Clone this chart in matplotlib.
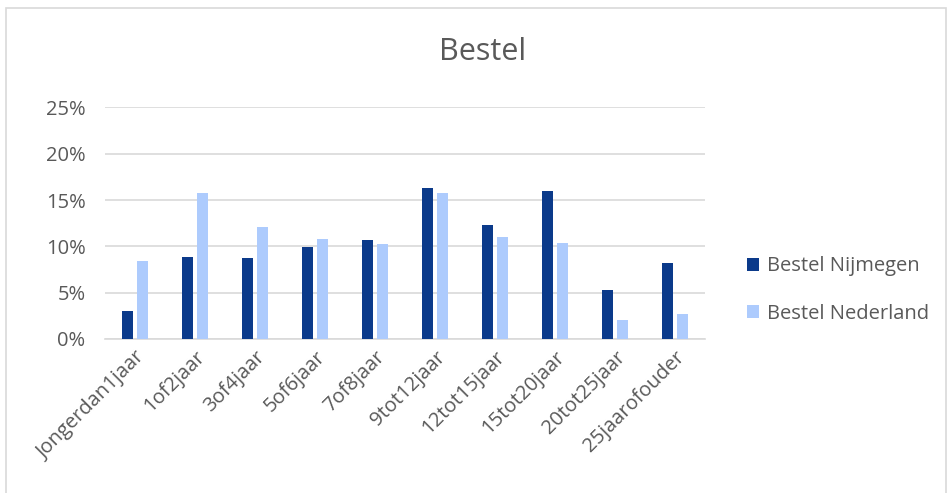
import matplotlib
matplotlib.use("Agg")
import matplotlib.pyplot as plt
import numpy as np
from matplotlib.patches import Rectangle
from matplotlib.ticker import PercentFormatter

categories = ["Jongerdan1jaar", "1of2jaar", "3of4jaar", "5of6jaar", "7of8jaar",
              "9tot12jaar", "12tot15jaar", "15tot20jaar", "20tot25jaar", "25jaarofouder"]
nijmegen = [3.0, 8.9, 8.8, 9.9, 10.7, 16.3, 12.3, 16.0, 5.3, 8.2]
nederland = [8.4, 15.8, 12.1, 10.8, 10.3, 15.8, 11.0, 10.4, 2.1, 2.7]
series_names = ["Bestel Nijmegen", "Bestel Nederland"]
yticks = [0, 5, 10, 15, 20, 25]

text_col = "#595959"
plt.rcParams['font.family'] = ['Open Sans', 'DejaVu Sans']

fig = plt.figure(figsize=(9.49, 4.93), dpi=100)
fig.patches.append(Rectangle((6 / 949, -0.02), 940 / 949, 1 - 8 / 493 + 0.02,
                             transform=fig.transFigure, fill=False,
                             edgecolor="#d9d9d9", linewidth=1.2))
ax = fig.add_axes([105 / 949, 154 / 493, 600 / 949, 231.5 / 493])

x = np.arange(len(categories))
w = 0.18
ax.bar(x - 0.12, nijmegen, w, color="#0b3a8a", label=series_names[0], zorder=3)
ax.bar(x + 0.12, nederland, w, color="#adcbfd", label=series_names[1], zorder=3)

ax.set_xlim(-0.5, len(categories) - 0.5)
ax.set_ylim(0, 25)
ax.set_yticks(yticks)
ax.yaxis.set_major_formatter(PercentFormatter(decimals=0))
ax.grid(axis="y", color="#d9d9d9", linewidth=1.2, zorder=0)
for s in ["top", "right", "left"]:
    ax.spines[s].set_visible(False)
ax.spines["bottom"].set_color("#d9d9d9")
ax.spines["bottom"].set_linewidth(1.2)
ax.tick_params(axis="both", length=0, labelsize=14.5, labelcolor=text_col)
ax.tick_params(axis="y", pad=14)
ax.tick_params(axis="x", pad=6)
ax.set_xticks(x)
ax.set_xticklabels(categories, rotation=45, ha="right", rotation_mode="anchor")

fig.text(483 / 949, 1 - 52 / 493, "Bestel", ha="center", va="center",
         fontsize=22, color=text_col)

fig.legend(loc="center left", bbox_to_anchor=(729 / 949, 1 - 290 / 493),
           frameon=False, fontsize=14.5, labelcolor=text_col,
           handlelength=0.6, handleheight=0.6, handletextpad=0.4, labelspacing=1.35)

fig.savefig("out.png", dpi=100)
